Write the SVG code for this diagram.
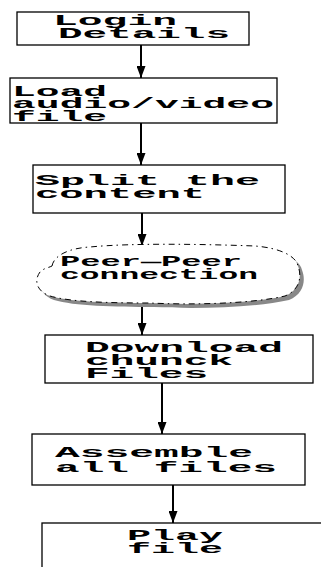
<svg xmlns="http://www.w3.org/2000/svg" width="321" height="567" viewBox="0 0 321 567">
<style>
.box{fill:#fff;stroke:#000;stroke-width:1.3}
.t{font-family:"Liberation Mono","Courier New",monospace;font-weight:bold;font-size:14px;fill:#000}
.c{stroke:#000;stroke-width:2;fill:none}
.cloud{fill:#fff;stroke:#000;stroke-width:1;stroke-dasharray:6 4 1.5 4}
</style>
<defs>
<marker id="ah" viewBox="0 0 12 9" refX="12" refY="4.5" markerWidth="12" markerHeight="9" markerUnits="userSpaceOnUse" orient="auto">
<path d="M0,0 L12,4.5 L0,9 Z" fill="#000"/>
</marker>
</defs>
<rect width="321" height="567" fill="#fff"/>
<g id="connectors">
<line class="c" x1="141" y1="45" x2="141" y2="78" marker-end="url(#ah)"/>
<line class="c" x1="141" y1="123" x2="141" y2="165" marker-end="url(#ah)"/>
<line class="c" x1="142" y1="213" x2="142" y2="246" marker-end="url(#ah)"/>
<line class="c" x1="142" y1="303" x2="142" y2="335" marker-end="url(#ah)"/>
<line class="c" x1="162" y1="383" x2="162" y2="434" marker-end="url(#ah)"/>
<line class="c" x1="173" y1="485" x2="173" y2="523" marker-end="url(#ah)"/>
</g>
<g id="n1">
<rect class="box" x="17" y="12" width="232" height="33"/>
<text class="t" x="53" y="25" textLength="124" lengthAdjust="spacingAndGlyphs">Login</text>
<text class="t" x="58" y="38" textLength="172" lengthAdjust="spacingAndGlyphs">Details</text>
</g>
<g id="n2">
<rect class="box" x="10" y="78" width="267" height="45"/>
<text class="t" x="12" y="96" textLength="95" lengthAdjust="spacingAndGlyphs">Load</text>
<text class="t" x="12" y="108" textLength="262" lengthAdjust="spacingAndGlyphs">audio/video</text>
<text class="t" x="12" y="121" textLength="95" lengthAdjust="spacingAndGlyphs">file</text>
</g>
<g id="n3">
<rect class="box" x="33" y="165" width="252" height="48"/>
<text class="t" x="35" y="185" textLength="225" lengthAdjust="spacingAndGlyphs">Split the</text>
<text class="t" x="35" y="198" textLength="170" lengthAdjust="spacingAndGlyphs">content</text>
</g>
<g id="n4">
<path d="M52,266 C54,255 70,248 90,247 C130,243 200,244 255,246 C280,248 296,256 298,266 C302,276 300,290 285,296 C250,304 190,305 150,303 C110,303 70,302 50,296 C36,291 34,280 40,272 C44,268 48,268 52,266 Z" fill="#888" transform="translate(4,4)"/>
<path class="cloud" d="M52,266 C54,255 70,248 90,247 C130,243 200,244 255,246 C280,248 296,256 298,266 C302,276 300,290 285,296 C250,304 190,305 150,303 C110,303 70,302 50,296 C36,291 34,280 40,272 C44,268 48,268 52,266 Z"/>
<text class="t" x="60" y="266" textLength="182" lengthAdjust="spacingAndGlyphs">Peer—Peer</text>
<text class="t" x="60" y="279" textLength="198" lengthAdjust="spacingAndGlyphs">connection</text>
</g>
<g id="n5">
<rect class="box" x="45" y="335" width="268" height="48"/>
<text class="t" x="85" y="352" textLength="198" lengthAdjust="spacingAndGlyphs">Download</text>
<text class="t" x="85" y="365" textLength="148" lengthAdjust="spacingAndGlyphs">chunck</text>
<text class="t" x="85" y="378" textLength="123" lengthAdjust="spacingAndGlyphs">Files</text>
</g>
<g id="n6">
<rect class="box" x="32" y="434" width="273" height="51"/>
<text class="t" x="55" y="457" textLength="198" lengthAdjust="spacingAndGlyphs">Assemble</text>
<text class="t" x="55" y="472" textLength="222" lengthAdjust="spacingAndGlyphs">all files</text>
</g>
<g id="n7">
<rect class="box" x="42" y="523" width="300" height="60"/>
<text class="t" x="127" y="540" textLength="96" lengthAdjust="spacingAndGlyphs">Play</text>
<text class="t" x="127" y="553" textLength="96" lengthAdjust="spacingAndGlyphs">file</text>
</g>
</svg>
